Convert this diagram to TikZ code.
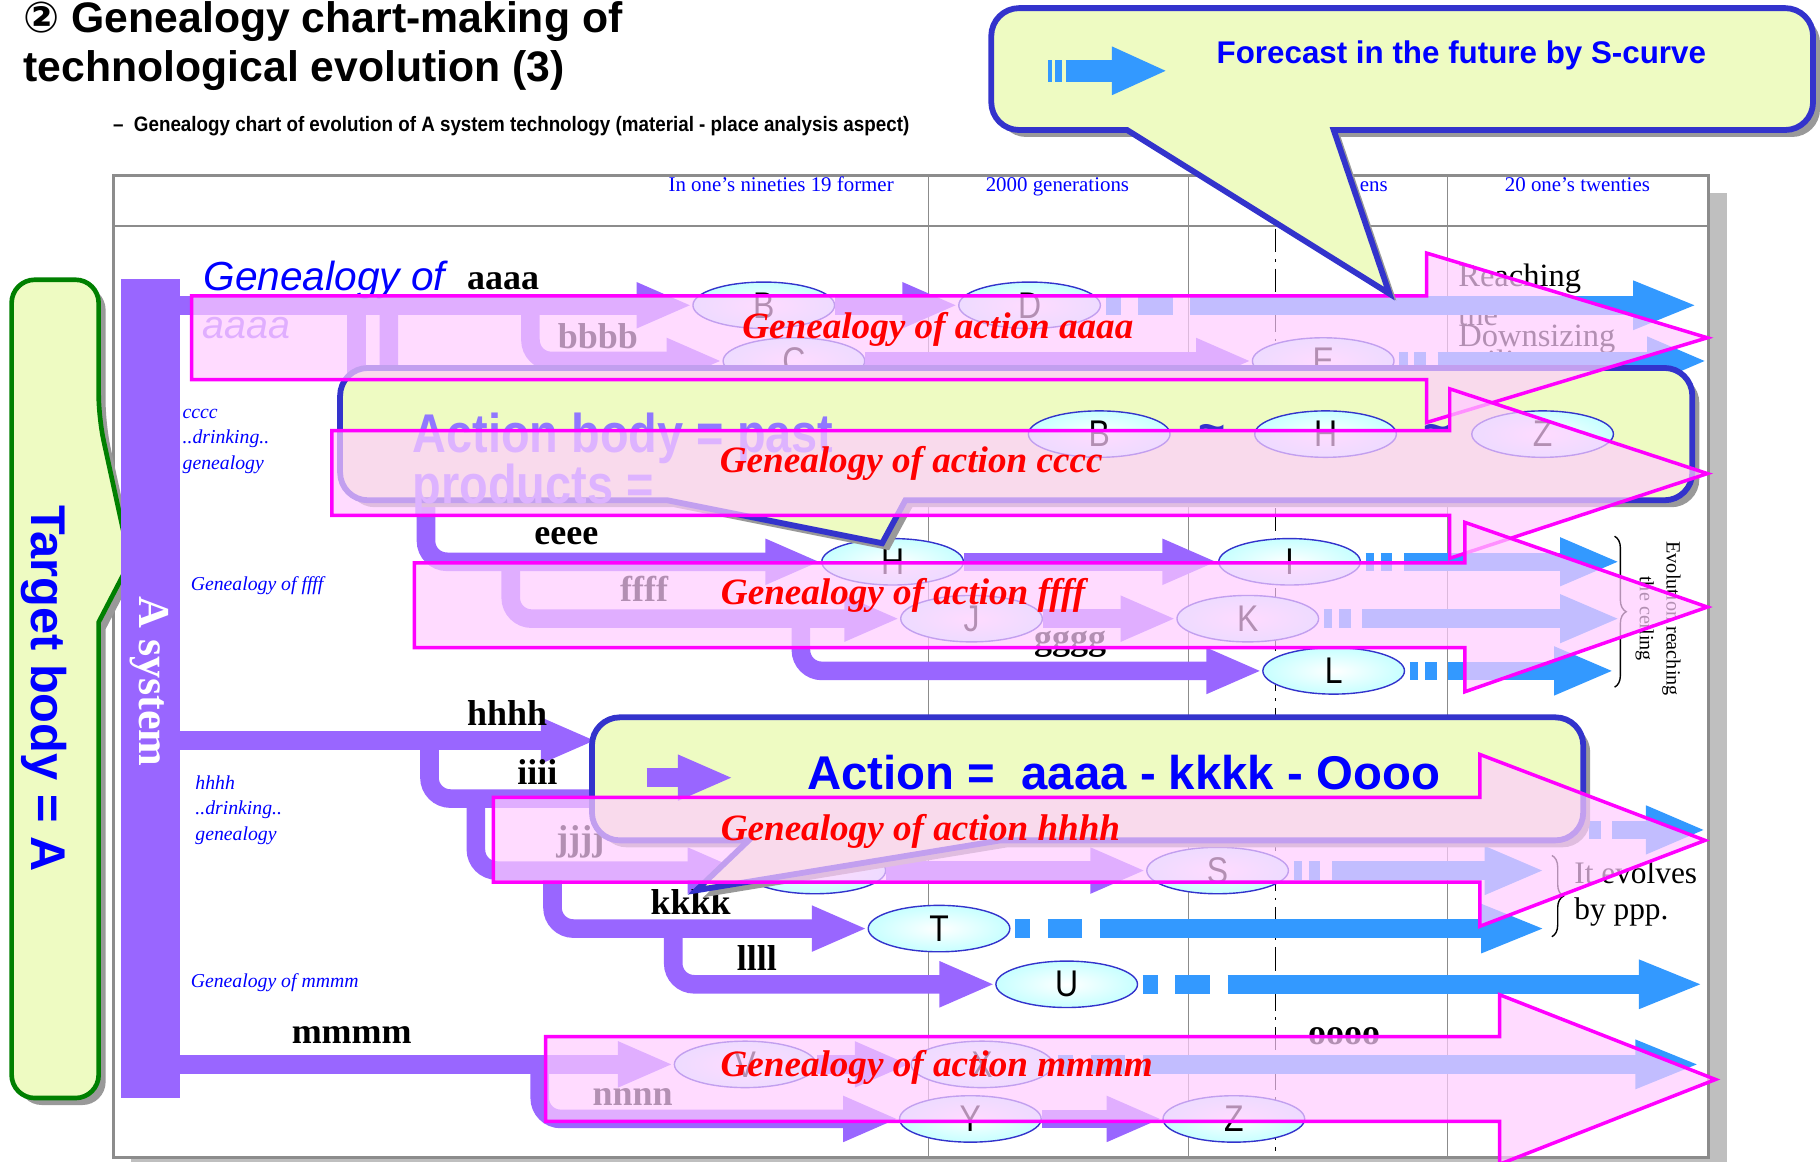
\documentclass[tikz,border=0pt]{standalone}
\usepackage{fontspec}
\setmainfont{Liberation Serif}
\setsansfont{Liberation Sans}
\newfontfamily\narrowsans[FakeStretch=0.86]{Liberation Sans}
\newfontfamily\subsans[FakeStretch=0.9]{Liberation Sans}
\newfontfamily\symfont{DejaVu Sans}
\usepackage{tikz}
\usetikzlibrary{arrows.meta, positioning, shapes.geometric, shadows, decorations.pathreplacing}

\definecolor{flowpurple}{HTML}{9966FF}
\definecolor{fcblue}{HTML}{3399FF}
\definecolor{noteyellow}{HTML}{EEFBC2}
\definecolor{noteblue}{HTML}{3333CC}
\definecolor{pinkfill}{HTML}{FFCDFF}
\definecolor{pinkline}{HTML}{FF00FF}
\definecolor{gridgray}{HTML}{8C8C8C}
\definecolor{pastpurple}{HTML}{9077FF}

\begin{document}
\begin{tikzpicture}[
  x=0.5pt, y=-0.5pt,
  gen/.style={ellipse, draw=noteblue, line width=0.6pt, inner color=white, outer color=cyan!22,
    minimum width=61pt, minimum height=20pt, inner sep=0pt,
    font=\narrowsans\fontsize{16}{16}\selectfont},
  flow/.style={draw=flowpurple, line width=8pt, rounded corners=9pt,
    -{Triangle[length=24pt, width=18pt]}},
  trunk/.style={draw=flowpurple, line width=8pt, rounded corners=9pt},
  fcshort/.style={draw=fcblue, line width=8pt, shorten <=2pt,
    dash pattern=on 3.5pt off 3pt on 5pt off 5pt on 500pt,
    -{Triangle[length=26pt, width=19pt]}},
  fclong/.style={draw=fcblue, line width=8pt, shorten <=2pt,
    dash pattern=on 6.5pt off 7.5pt on 15pt off 7.5pt on 500pt,
    -{Triangle[length=28pt, width=19pt]}},
  lbl/.style={font=\bfseries\fontsize{15.5}{16}\selectfont, inner sep=0pt},
  side/.style={font=\itshape\fontsize{8.5}{11}\selectfont, text=blue, align=left, anchor=west, inner sep=0pt},
  colhead/.style={font=\fontsize{9}{10}\selectfont, text=blue, inner sep=0pt},
  note/.style={font=\fontsize{14}{14}\selectfont, anchor=west, inner sep=0pt},
  act/.style={font=\bfseries\itshape\fontsize{16}{16}\selectfont, text=red, inner sep=0pt},
  pinkarrow/.style={fill=pinkfill, fill opacity=0.7, draw=pinkline, line width=1.5pt},
  notebox/.style={fill=noteyellow, draw=noteblue, line width=2.5pt,
    drop shadow={shadow xshift=3pt, shadow yshift=-3pt, fill=black!40, opacity=1}},
  bracket/.style={decorate, decoration={brace, amplitude=5pt}, line width=0.6pt}
]

\useasboundingbox[fill=white] (0,0) rectangle (1568,1001);

% title
\node[anchor=base west, inner sep=0pt, font=\sffamily\bfseries\fontsize{18.4}{20}\selectfont]
  (title1) at (20,28) {{\symfont ②} Genealogy chart-making of};
\node[anchor=base west, inner sep=0pt, font=\sffamily\bfseries\fontsize{18.4}{20}\selectfont]
  (title2) at (20,70) {technological evolution (3)};
\node[anchor=base west, inner sep=0pt, font=\subsans\bfseries\fontsize{9}{10}\selectfont]
  (subtitle) at (97,113) {–\ \ Genealogy chart of evolution of A system technology (material - place analysis aspect)};

% table
\fill[gray!50] (113,166) rectangle (1488,1012);
\draw[gridgray, line width=1.3pt, fill=white] (98,151) rectangle (1472,997);
\draw[gridgray, line width=0.8pt] (98,195) -- (1472,195);
\foreach \cx in {800,1024,1247}
  \draw[gridgray, line width=0.6pt] (\cx,151) -- (\cx,997);
\draw[line width=0.7pt, dash pattern=on 10pt off 3pt on 1.2pt off 3pt] (1099,197) -- (1099,992);

\node[colhead] (col1) at (673,159) {In one's nineties 19 former};
\node[colhead] (col2) at (911,161) {2000 generations};
\node[colhead, anchor=east] (col3) at (1196,161) {ens};
\node[colhead] (col4) at (1359,159) {20 one's twenties};

% target body
\draw[fill=noteyellow, draw=green!50!black, line width=2pt, rounded corners=10pt,
  drop shadow={shadow xshift=3pt, shadow yshift=-3pt, fill=black!40, opacity=1}]
  (10,241) -- (85,241) -- (85,360) [sharp corners] -- (112,484) -- (85,536)
  [rounded corners=10pt] -- (85,946) -- (10,946) -- cycle;
\node[rotate=-90, text=blue, font=\sffamily\bfseries\fontsize{21}{21}\selectfont] (target) at (38,593) {Target body = A};

% A system
\fill[flowpurple] (104,240) rectangle (155,946);
\node[rotate=-90, text=white, font=\bfseries\fontsize{19}{19}\selectfont] (asys) at (129,587) {A system};

% genealogy ellipses
\node[gen] (aB) at (658,263) {B};
\node[gen] (aD) at (887,263) {D};
\node[gen] (bC) at (684,311) {C};
\node[gen] (bE) at (1140,311) {E};
\node[gen] (eH) at (769,484) {H};
\node[gen] (eI) at (1111,484) {I};
\node[gen] (fJ) at (837,533) {J};
\node[gen] (fK) at (1075,533) {K};
\node[gen] (gL) at (1149,578) {L};
\node[gen] (jR) at (702,750) {};
\node[gen] (jS) at (1049,750) {S};
\node[gen] (kT) at (809,800) {T};
\node[gen] (lU) at (919,848) {U};
\node[gen] (mV) at (642,917) {V};
\node[gen] (mX) at (846,917) {X};
\node[gen] (nY) at (836,964) {Y};
\node[gen] (nZ) at (1063,964) {Z};

% texts lying under the flows
\node[note] (reach1) at (1256,240) {Reaching};
\node[note] (reach2) at (1256,271) {the};
\node[note] (reach3) at (1256,292) {Downsizing};
\node[note] (reach4) at (1256,314) {ceiling};

% purple flows
\coordinate (aStart) at (155,263);
\coordinate (cFork) at (307,263);
\coordinate (cKnee) at (307,345);
\coordinate (eFork) at (335,263);
\coordinate (eKnee) at (367,420);
\coordinate (bFork) at (457,263);
\coordinate (fFork) at (440,484);
\coordinate (gFork) at (690,533);
\coordinate (hStart) at (155,638);
\coordinate (hEnd) at (514,638);
\coordinate (iFork) at (370,638);
\coordinate (iEnd) at (540,688);
\coordinate (jFork) at (410,688);
\coordinate (kFork) at (476,750);
\coordinate (lFork) at (580,800);
\coordinate (mStart) at (155,917);
\coordinate (nFork) at (465,917);

\draw[flow] (aStart) -- (aB);
\draw[flow] (aB) -- (aD);
\draw[trunk] (cFork) -- (cKnee);
\draw[flow] (bFork) |- (bC);
\draw[flow] (bC) -- (bE);
\draw[flow] (eFork) |- (eKnee) |- (eH);
\draw[flow] (eH) -- (eI);
\draw[flow] (fFork) |- (fJ);
\draw[flow] (fJ) -- (fK);
\draw[flow] (gFork) |- (gL);
\draw[flow] (hStart) -- (hEnd);
\draw[trunk] (iFork) |- (iEnd);
\draw[flow] (jFork) |- (jR);
\draw[flow] (jR) -- (jS);
\draw[flow] (kFork) |- (kT);
\draw[flow] (lFork) |- (lU);
\draw[flow] (mStart) -- (mV);
\draw[flow] (mV) -- (mX);
\draw[flow] (nFork) |- (nY);
\draw[flow] (nY) -- (nZ);

% forecasts
\coordinate (aTip) at (1463,263);
\coordinate (bTip) at (1471,311);
\coordinate (eTip) at (1396,484);
\coordinate (fTip) at (1396,533);
\coordinate (gTip) at (1391,578);
\coordinate (qOut) at (1352,715);
\coordinate (qTip) at (1470,715);
\coordinate (jTip) at (1331,750);
\coordinate (kTip) at (1332,800);
\coordinate (lTip) at (1468,848);
\coordinate (mTip) at (1465,917);

\draw[fclong] (aD) -- (aTip);
\draw[fcshort] (bE) -- (bTip);
\draw[fcshort] (eI) -- (eTip);
\draw[fcshort] (fK) -- (fTip);
\draw[fcshort] (gL) -- (gTip);
\draw[fcshort] (qOut) -- (qTip);
\draw[fcshort] (jS) -- (jTip);
\draw[fclong] (kT) -- (kTip);
\draw[fclong] (lU) -- (lTip);
\draw[fclong] (mX) -- (mTip);

% labels
\node[anchor=base west, inner sep=0pt, text=blue, font=\sffamily\itshape\fontsize{17.5}{18}\selectfont]
  (aTitle) at (175,250) {Genealogy of};
\node[lbl, anchor=base west] (aName) at (402,249) {aaaa};
\node[text=flowpurple, font=\sffamily\itshape\fontsize{17}{17}\selectfont] (aSub) at (212,283) {aaaa};
\node[lbl] (bName) at (515,290) {bbbb};
\node[lbl] (eName) at (488,462) {eeee};
\node[lbl] (fName) at (555,507) {ffff};
\node[lbl] (gName) at (922,555) {gggg};
\node[lbl] (hName) at (437,614) {hhhh};
\node[lbl] (iName) at (463,665) {iiii};
\node[lbl] (jName) at (500,725) {jjjj};
\node[lbl] (kName) at (595,777) {kkkk};
\node[lbl] (lName) at (652,825) {llll};
\node[lbl] (mName) at (303,892) {mmmm};
\node[lbl] (nName) at (545,945) {nnnn};
\node[lbl] (oName) at (1158,893) {oooo};

\node[side] (cSide) at (157,380) {cccc\\..drinking..\\genealogy};
\node[side] (fSide) at (164,505) {Genealogy of ffff};
\node[side] (hSide) at (168,698) {hhhh\\..drinking..\\genealogy};
\node[side] (mSide) at (164,847) {Genealogy of mmmm};

\coordinate (evoTop) at (1391,462);
\coordinate (evoBot) at (1391,592);
\draw[bracket] (evoTop) -- (evoBot);
\node[rotate=-90, font=\fontsize{8.7}{9}\selectfont] (evo1) at (1440,533) {Evolution reaching};
\node[rotate=-90, font=\fontsize{8.7}{9}\selectfont] (evo2) at (1417,533) {the ceiling};
\coordinate (pppTop) at (1337,737);
\coordinate (pppBot) at (1337,807);
\draw[bracket] (pppTop) -- (pppBot);
\node[note, font=\fontsize{13.5}{14}\selectfont] (ppp1) at (1356,752) {It evolves};
\node[note, font=\fontsize{13.5}{14}\selectfont] (ppp2) at (1356,786) {by ppp.};

% action body callout
\draw[notebox, rounded corners=12pt]
  (293,317) -- (1458,317) -- (1458,431) [sharp corners] -- (780,431) -- (760,468) -- (575,431)
  [rounded corners=12pt] -- (293,431) -- cycle;
\node[anchor=base west, align=left, inner sep=0pt, text=pastpurple,
  font=\narrowsans\bfseries\fontsize{23.5}{22}\selectfont] (past) at (355,434) {Action body = past\\products =};
\node[gen] (cB) at (947,374) {B};
\node[gen] (cH) at (1142,374) {H};
\node[gen] (cZ) at (1329,374) {Z};
\node[text=noteblue, font=\sffamily\bfseries\fontsize{20}{20}\selectfont] (cT1) at (1044,374) {\char`\~};
\node[text=noteblue, font=\sffamily\bfseries\fontsize{20}{20}\selectfont] (cT2) at (1238,374) {\char`\~};

% action callout
\draw[notebox, rounded corners=12pt]
  (510,618) -- (1364,618) -- (1364,724) [sharp corners] -- (862,724) -- (600,767) -- (645,724)
  [rounded corners=12pt] -- (510,724) -- cycle;
\coordinate (actIconA) at (557,670);
\coordinate (actIconB) at (632,670);
\draw[flow] (actIconA) -- (actIconB);
\node[text=blue, font=\sffamily\bfseries\fontsize{20.4}{20}\selectfont] (action) at (968,666) {Action =\ \ aaaa - kkkk - Oooo};

% genealogy of action arrows
\draw[pinkarrow] (165,255) -- (1229,255) -- (1229,218) -- (1471,291) -- (1229,364) -- (1229,327) -- (165,327) -- cycle;
\node[act] (actA) at (808,284) {Genealogy of action aaaa};
\draw[pinkarrow] (286,371) -- (1249,371) -- (1249,335) -- (1471,408) -- (1249,481) -- (1249,444) -- (286,444) -- cycle;
\node[act] (actC) at (785,399) {Genealogy of action cccc};
\draw[pinkarrow] (357,485) -- (1262,485) -- (1262,450) -- (1471,523) -- (1262,596) -- (1262,558) -- (357,558) -- cycle;
\node[act] (actF) at (778,513) {Genealogy of action ffff};
\draw[pinkarrow] (425,687) -- (1275,687) -- (1275,650) -- (1469,724) -- (1275,798) -- (1275,760) -- (425,760) -- cycle;
\node[act] (actH) at (793,716) {Genealogy of action hhhh};
\draw[pinkarrow] (470,893) -- (1292,893) -- (1292,857) -- (1478,930) -- (1292,1003) -- (1292,966) -- (470,966) -- cycle;
\node[act] (actM) at (807,920) {Genealogy of action mmmm};

% forecast callout
\draw[notebox, rounded corners=12pt]
  (854,7) -- (1562,7) -- (1562,112) [sharp corners] -- (1149,112) -- (1197,253) -- (971,112)
  [rounded corners=12pt] -- (854,112) -- cycle;
\coordinate (fcIconA) at (903,61);
\coordinate (fcIconB) at (1006,61);
\draw[fcblue, line width=9.5pt, dash pattern=on 1.5pt off 1.5pt on 3pt off 1.5pt on 100pt,
  -{Triangle[length=24pt, width=19pt]}] (fcIconA) -- (fcIconB);
\node[text=blue, font=\sffamily\bfseries\fontsize{13.5}{14}\selectfont] (forecast) at (1259,48) {Forecast in the future by S-curve};

\end{tikzpicture}
\end{document}
